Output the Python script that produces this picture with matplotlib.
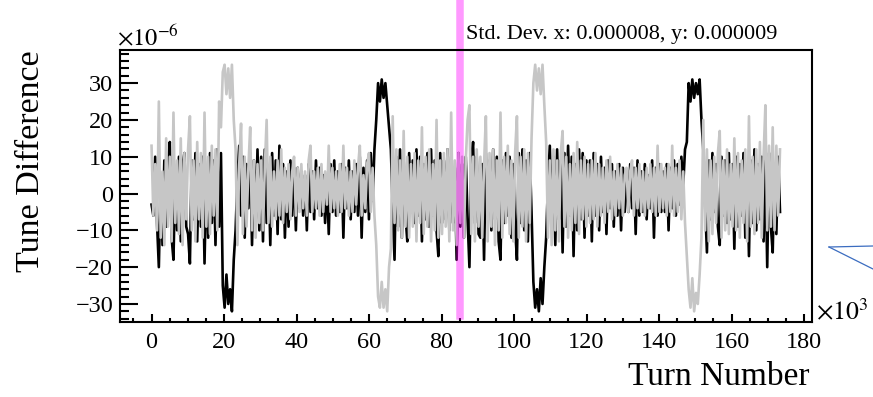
import numpy as np
import matplotlib
matplotlib.use("Agg")
import matplotlib.pyplot as plt
from matplotlib.lines import Line2D
from matplotlib.ticker import MultipleLocator

plt.rcParams["font.family"] = ["Liberation Serif", "DejaVu Serif"]
plt.rcParams["mathtext.fontset"] = "stix"

# tune difference x (black), units of 10^-6, samples every ~504 turns
dx = [
    -3, -6, 10, -8, -20, 4, -14, 9, -9, 7, 14, -12, -18, 6, -10, 10, -13, 8, 11, -9,
    -11, -19, 9, -7, 11, -13, 8, -9, 10, -19, 6, -12, 11, -8, 9, -14, 12, -9, 11, -25,
    -31, -22, -30, -26, -32, -18, -10, 4, 13, -6, 10, -12, 8, -4, 11, -14, 9, -7, 12, -10,
    10, -13, 12, -8, 7, -14, 11, -6, 9, -11, 13, -7, 8, -12, 6, -9, 9, -6, 7, -10,
    7, -4, 6, -6, 5, -10, 8, -5, 6, -7, 9, -4, 7, -6, 5, -8, 4, -11, 8, -5,
    9, -6, 6, -5, 8, -12, 7, -4, 9, -7, 6, -5, 8, -6, 10, -12, 7, -5, 9, -7,
    11, -2, 12, 20, 30, 25, 31, 26, 30, 24, 18, 12, -4, -18, 10, -9, 12, -12, 9, -6,
    -13, 11, -5, 9, -8, 12, -6, 10, -13, 8, -7, 11, -9, 12, -6, 9, -10, -17, 11, -8,
    9, -7, 12, -10, 10, -8, 7, -18, 11, -9, 8, -12, 10, -7, -20, 9, 14, -8, 10, -11,
    -12, 8, -18, 11, -6, 9, -10, 12, -7, 10, -13, -18, 9, -8, 11, -6, 10, -12, 8, -9,
    -18, 11, -8, 12, -10, 9, -13, 11, -5, -24, -31, -26, -32, -23, -30, -20, -12, 3, 13, -8,
    10, -14, 12, -7, 9, -16, 11, -9, 13, -6, 10, -17, 8, -10, 12, -7, 11, -12, 9, -6,
    9, -13, 11, -6, 8, -10, 10, -5, 7, -11, 9, -4, 8, -9, 6, -6, 8, -10, 7, -5,
    6, -5, 8, -4, 7, -11, 9, -6, 6, -5, 8, -7, 5, -4, 9, -12, 7, -6, 8, -5,
    6, -5, 8, -10, 7, -4, 9, -6, 8, -3, 10, 2, 12, 14, 30, 25, 31, 26, 30, 27,
    31, 20, 12, -3, -16, 9, -7, 11, -5, 8, -9, -14, 10, -6, 9, -8, 11, -7, 8, -15,
    10, -9, 8, -6, 11, -12, 7, -17, 9, -8, 12, -10, 8, -7, 10, -13, 9, -20, 11, -9,
    -16, 8, -11, 10, -5,
]

# tune difference y (grey)
dy = [
    13, -6, 8, -10, 25, -12, 6, -14, 15, -9, 10, -13, 22, -8, 9, -11, 15, -14, 11, -7,
    12, 21, -10, 9, -13, 14, -7, 11, -12, 22, -9, 10, -11, 13, -6, 12, -10, 25, 18, 33,
    35, 27, 34, 26, 35, 20, 12, -14, 8, 19, -11, 10, -9, 7, 18, -10, 9, -12, 8, -8,
    9, -10, 7, 20, -8, 10, -9, 6, -7, 9, -6, 12, -8, 7, -5, 8, -7, 6, 10, -6,
    7, -5, 8, -4, 6, -6, 9, 13, -5, 6, -4, 7, -6, 8, -5, 6, -3, 13, -5, 7,
    -4, 6, -6, 8, -5, 13, -4, 7, -6, 6, -5, 9, -3, 7, 13, -6, 5, -4, 8, 11,
    -5, 7, -6, -14, -28, -31, -24, -31, -26, -32, -20, -15, 21, -8, 12, -10, 9, -12, 17, -9,
    10, -12, 8, -9, 11, -13, 9, -8, 18, -11, 10, -9, 12, -13, 8, -10, 20, -12, 9, -11,
    11, -9, 12, -13, 22, -10, 9, -14, 11, -8, 10, -12, 9, 20, 24, -11, 10, -13, 12, -9,
    10, -12, 8, 21, -13, 11, -9, 12, -14, 9, -10, 22, -12, 10, -8, 13, -11, 9, -13, 11,
    21, -12, 10, -9, 12, -13, 11, -8, 15, 30, 35, 28, 34, 27, 35, 24, 14, -12, 9, -14,
    12, -10, 9, -13, 11, 17, -9, 10, -12, 8, -10, 11, -8, 14, -11, 9, -7, 10, -9, 8,
    -8, 9, -7, 11, -9, 8, -6, 7, -8, 9, -5, 10, -7, 6, -6, 8, -4, 7, -6, 5,
    7, -5, 6, 9, -6, 7, -4, 8, -5, 6, -6, 7, -4, 8, -5, 7, -6, 13, -5, 8,
    -4, 7, -6, 8, -5, 13, -6, 7, -5, 9, -7, 6, -8, -17, -26, -31, -23, -32, -27, -30,
    -22, -12, 20, -10, 12, -13, 9, -11, 10, -8, 11, 17, -12, 9, -10, 12, -11, 8, -9, 15,
    -10, 11, -12, 9, -8, 12, -13, 21, -9, 10, -11, 12, -8, 14, -12, 10, 24, -10, 13, -9,
    18, -10, 13, -6, 12,
]

# turn number in units of 10^3
turns = np.arange(len(dx)) * 0.504

marker_turn = 85.0
stats_text = "Std. Dev. x: 0.000008, y: 0.000009"

W, H = 873, 397
fig = plt.figure(figsize=(W / 100, H / 100), dpi=100)
ax = fig.add_axes([120 / W, 75 / H, 692 / W, 272 / H])

ax.plot(turns, dx, color="black", lw=1.9)
ax.plot(turns, dy, color="#c6c6c6", lw=1.9)

ax.axvline(marker_turn, ymin=0.022, ymax=1.19, color="magenta", alpha=0.4,
           lw=5.4, clip_on=False)

ax.set_xlim(-8.7, 182.2)
ax.set_ylim(-34.9, 39.0)

ax.xaxis.set_major_locator(MultipleLocator(20))
ax.xaxis.set_minor_locator(MultipleLocator(5))
ax.yaxis.set_major_locator(MultipleLocator(10))
ax.yaxis.set_minor_locator(MultipleLocator(2))

ax.tick_params(axis="y", which="major", direction="in", length=13, width=1.5,
               labelsize=17.5, pad=5)
ax.tick_params(axis="y", which="minor", direction="in", length=6.5, width=1.5)
ax.tick_params(axis="x", which="major", direction="in", length=5.5, width=1.5,
               labelsize=17.5, pad=7)
ax.tick_params(axis="x", which="minor", direction="in", length=3, width=1.5)
for s in ax.spines.values():
    s.set_linewidth(1.5)

fig.text(117 / W, 1 - 45 / H, r"$\times10^{-6}$", fontsize=17.5, ha="left", va="baseline")
fig.text(816 / W, 1 - 320 / H, r"$\times10^{3}$", fontsize=18.5, ha="left", va="baseline")
fig.text(466 / W, 1 - 39 / H, stats_text, fontsize=16, ha="left", va="baseline")
fig.text(31 / W, 1 - 50 / H, "Tune Difference", fontsize=24.5, rotation=90,
         ha="center", va="top")
fig.text(809 / W, 1 - 385 / H, "Turn Number", fontsize=24, ha="right", va="baseline")

# stray blue marks on the right edge
for y_end in (246, 269):
    fig.add_artist(Line2D([829 / W, 873 / W], [1 - 247 / H, 1 - y_end / H],
                          color="#3b6cc0", lw=0.9))

fig.savefig("out.png", dpi=100)
